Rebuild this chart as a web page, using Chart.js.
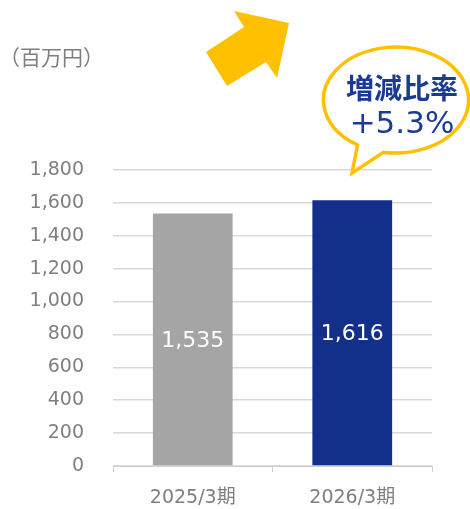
<!DOCTYPE html>
<html>
<head>
    <title>売上高 比較</title>
    <script src="https://cdn.jsdelivr.net/npm/chart.js@4.4.0/dist/chart.umd.min.js"></script>
    <style>
        body { margin: 0; padding: 0; background: #fff; }
        .chart-box { width: 470px; height: 509px; position: relative; }
    </style>
</head>
<body>
    <div class="chart-box"><canvas id="salesChart"></canvas></div>

    <script>
        // data
        const categories = ['2025/3期', '2026/3期'];
        const values = [1535, 1616];
        const barColors = ['#a5a5a5', '#122f8a'];
        const yMax = 1800;
        const yStep = 200;
        const unitLabel = '（百万円）';
        const bubbleLines = ['増減比率', '+5.3%'];

        const baseFont = '"DejaVu Sans", "Noto Sans CJK JP", sans-serif';
        const cjkFont = '"Noto Sans CJK JP", "DejaVu Sans", sans-serif';

        // value labels inside bars + decorations (unit, arrow, bubble)
        const extras = {
            id: 'extras',
            afterDatasetsDraw(chart) {
                const ctx = chart.ctx;
                const meta = chart.getDatasetMeta(0);
                ctx.save();
                ctx.fillStyle = '#ffffff';
                ctx.font = '22px ' + baseFont;
                ctx.textAlign = 'center';
                ctx.textBaseline = 'middle';
                meta.data.forEach((bar, i) => {
                    const mid = (bar.y + bar.base) / 2;
                    ctx.fillText(values[i].toLocaleString('en-US'), bar.x, mid + 2);
                });
                ctx.restore();
            },
            afterDraw(chart) {
                const ctx = chart.ctx;
                ctx.save();

                // unit label
                ctx.fillStyle = '#7f7f7f';
                ctx.font = '21px ' + cjkFont;
                ctx.textAlign = 'left';
                ctx.textBaseline = 'middle';
                ctx.fillText(unitLabel, -1, 57);

                // arrow
                ctx.fillStyle = '#ffc000';
                ctx.beginPath();
                ctx.moveTo(206, 52);
                ctx.lineTo(244, 27);
                ctx.lineTo(234, 11);
                ctx.lineTo(289, 23);
                ctx.lineTo(277, 78);
                ctx.lineTo(266, 62);
                ctx.lineTo(227, 86);
                ctx.closePath();
                ctx.fill();

                // speech bubble: ellipse the long way round, then the tail
                const cx = 396, cy = 100, rx = 72.5, ry = 53;
                const aLeft = 122 * Math.PI / 180, aRight = 100 * Math.PI / 180;
                ctx.beginPath();
                ctx.ellipse(cx, cy, rx, ry, 0, aLeft, aRight + Math.PI * 2, false);
                ctx.lineTo(352, 173);
                ctx.closePath();
                ctx.fillStyle = '#ffffff';
                ctx.fill();
                ctx.lineWidth = 3.5;
                ctx.lineJoin = 'miter';
                ctx.strokeStyle = '#ffc000';
                ctx.stroke();

                ctx.fillStyle = '#1b3a93';
                ctx.textAlign = 'center';
                ctx.textBaseline = 'middle';
                ctx.font = 'bold 28px ' + cjkFont;
                ctx.fillText(bubbleLines[0], 402, 88);
                ctx.font = '31px ' + baseFont;
                ctx.fillText(bubbleLines[1], 402, 125);

                ctx.restore();
            }
        };

        try {
            new Chart(document.getElementById('salesChart'), {
                type: 'bar',
                data: {
                    labels: categories,
                    datasets: [{
                        data: values,
                        backgroundColor: barColors,
                        borderWidth: 0,
                        barPercentage: 0.5,
                        categoryPercentage: 1.0
                    }]
                },
                options: {
                    responsive: true,
                    maintainAspectRatio: false,
                    animation: false,
                    layout: { padding: { top: 170, right: 38, bottom: 0, left: 0 } },
                    plugins: {
                        legend: { display: false },
                        tooltip: { enabled: false }
                    },
                    scales: {
                        x: {
                            grid: {
                                offset: true,
                                drawOnChartArea: false,
                                drawTicks: true,
                                tickLength: 6,
                                color: '#d0d0d0'
                            },
                            border: { color: '#d0d0d0' },
                            ticks: {
                                color: '#7f7f7f',
                                font: { family: baseFont, size: 19 },
                                padding: 15
                            },
                            afterFit(scale) { scale.height = 43; }
                        },
                        y: {
                            min: 0,
                            max: yMax,
                            grid: { color: '#d9d9d9', drawTicks: false, lineWidth: 1.5 },
                            border: { display: false },
                            ticks: {
                                stepSize: yStep,
                                color: '#7f7f7f',
                                font: { family: baseFont, size: 19 },
                                padding: 29,
                                callback: v => v.toLocaleString('en-US')
                            },
                            afterFit(scale) { scale.width = 113; }
                        }
                    }
                },
                plugins: [extras]
            });
        } catch (error) {
            console.error('Error rendering chart:', error);
        }
    </script>
</body>
</html>
